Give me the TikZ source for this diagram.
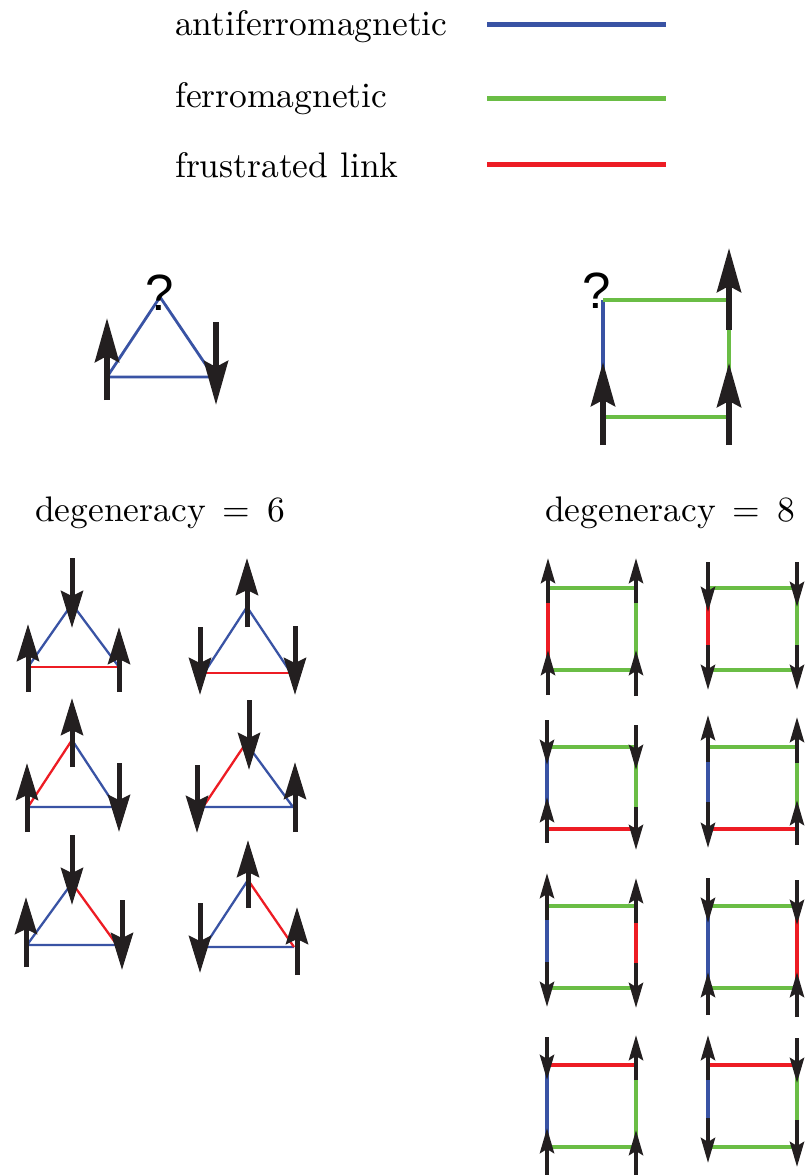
\documentclass[tikz,border=0pt]{standalone}
\usepackage{fontspec}
\setmainfont{lmroman10}[Extension=.otf, UprightFont=*-regular, BoldFont=*-bold, ItalicFont=*-italic]
\newfontfamily\qfont{Liberation Sans}
\usetikzlibrary{arrows.meta}
\definecolor{afm}{HTML}{3953A4}
\definecolor{fm}{HTML}{6ABD45}
\definecolor{fr}{HTML}{ED1C24}
\definecolor{spincol}{HTML}{231F20}
\begin{document}
\begin{tikzpicture}[x=1pt,y=-1pt,
 bigspin/.style={spincol, line width=6pt, -{Stealth[length=44pt,width=24pt,inset=6pt]}},
 tspin/.style={spincol, line width=5pt, -{Stealth[length=37pt,width=22pt,inset=5pt]}},
 sspin/.style={spincol, line width=4.3pt, -{Stealth[length=25pt,width=14pt,inset=4pt]}},
 tri/.style={line width=2.3pt},
 bigtri/.style={line width=2.8pt},
 sqr/.style={line width=3.3pt},
 bigsqr/.style={line width=4pt},
 leg/.style={line width=5pt},
 lbl/.style={font=\fontsize{35.5}{40}\selectfont, inner sep=0pt, anchor=base west},
 qm/.style={font=\qfont\fontsize{51}{55}\selectfont, inner sep=0pt, anchor=base}]
\useasboundingbox (0,0) rectangle (805,1175);

% legend
\node[lbl] (tafm) at (175,35) {antiferromagnetic};
\node[lbl] (tfm) at (175,107) {ferromagnetic};
\node[lbl] (tfr) at (175,177) {frustrated link};
\coordinate (la1) at (487,24); \coordinate (lb1) at (666,24);
\coordinate (la2) at (487,98); \coordinate (lb2) at (666,98);
\coordinate (la3) at (487,164); \coordinate (lb3) at (666,164);
\draw[leg,afm] (la1) -- (lb1);
\draw[leg,fm] (la2) -- (lb2);
\draw[leg,fr] (la3) -- (lb3);

% big triangle
\coordinate (BT) at (160,297); \coordinate (BL) at (107,377); \coordinate (BR) at (214,377);
\draw[bigtri,afm] (BL) -- (BT) -- (BR) -- cycle;
\node[qm] (q1) at (160,310) {?};
\draw[bigspin] (107,400) -- (107,318);
\draw[bigspin] (216,322) -- (216,405);

% big square
\coordinate (QTL) at (603,300); \coordinate (QTR) at (729,300);
\coordinate (QBR) at (729,417); \coordinate (QBL) at (603,417);
\draw[bigsqr,afm] (QBL) -- (QTL);
\draw[bigsqr,fm] (QTL) -- (QTR) -- (QBR) -- (QBL);
\node[qm] (q2) at (597,308) {?};
\draw[bigspin] (603,445) -- (603,362);
\draw[bigspin] (729,330) -- (729,248);
\draw[bigspin] (729,445) -- (729,363);

% degeneracy labels
\node[lbl] (d6) at (35,521) {degeneracy\hspace{5pt} =\hspace{5pt} 6};
\node[lbl] (d8) at (545,521) {degeneracy\hspace{5pt} =\hspace{5pt} 8};

% ---- small triangles ----
% T1
\coordinate (a1) at (72,604); \coordinate (b1) at (28,667); \coordinate (c1) at (119,667);
\draw[tri,afm] (b1) -- (a1) -- (c1);
\draw[tri,fr] (b1) -- (c1);
\draw[tspin] (28,692) -- (28,624);
\draw[tspin] (72,558) -- (72,628);
\draw[tspin] (119,692) -- (119,627);
% T2
\coordinate (a2) at (247,607); \coordinate (b2) at (204,673); \coordinate (c2) at (291,673);
\draw[tri,afm] (b2) -- (a2) -- (c2);
\draw[tri,fr] (b2) -- (c2);
\draw[tspin] (247,627) -- (247,558);
\draw[tspin] (200,627) -- (200,695);
\draw[tspin] (295,626) -- (295,695);
% T3
\coordinate (a3) at (72,740); \coordinate (b3) at (28,807); \coordinate (c3) at (116,807);
\draw[tri,fr] (b3) -- (a3);
\draw[tri,afm] (a3) -- (c3) -- (b3);
\draw[tspin] (72,767) -- (72,698);
\draw[tspin] (27,832) -- (27,763);
\draw[tspin] (119,763) -- (119,832);
% T4
\coordinate (a4) at (246,743); \coordinate (b4) at (203,807); \coordinate (c4) at (293,807);
\draw[tri,fr] (b4) -- (a4);
\draw[tri,afm] (a4) -- (c4) -- (b4);
\draw[tspin] (249,700) -- (249,770);
\draw[tspin] (197,765) -- (197,833);
\draw[tspin] (295,832) -- (295,762);
% T5
\coordinate (a5) at (72,883); \coordinate (b5) at (27,945); \coordinate (c5) at (117,945);
\draw[tri,afm] (c5) -- (b5) -- (a5);
\draw[tri,fr] (a5) -- (c5);
\draw[tspin] (72,835) -- (72,905);
\draw[tspin] (26,967) -- (26,897);
\draw[tspin] (122,900) -- (122,970);
% T6
\coordinate (a6) at (248,880); \coordinate (b6) at (204,947); \coordinate (c6) at (294,947);
\draw[tri,afm] (c6) -- (b6) -- (a6);
\draw[tri,fr] (a6) -- (c6);
\draw[tspin] (248,908) -- (248,840);
\draw[tspin] (200,903) -- (200,973);
\draw[tspin] (297,975) -- (297,907);

% ---- small squares ----
% S1
\coordinate (s1tl) at (548,588); \coordinate (s1tr) at (636,588);
\coordinate (s1br) at (636,670); \coordinate (s1bl) at (548,670);
\draw[sqr,fm] (s1tl) -- (s1tr) -- (s1br) -- (s1bl);
\draw[sqr,fr] (s1bl) -- (s1tl);
\draw[sspin] (548,603) -- (548,558);
\draw[sspin] (548,695) -- (548,650);
\draw[sspin] (636,603) -- (636,558);
\draw[sspin] (636,696) -- (636,650);
% S2
\coordinate (s2tl) at (708,588); \coordinate (s2tr) at (797,588);
\coordinate (s2br) at (797,670); \coordinate (s2bl) at (708,670);
\draw[sqr,fm] (s2tl) -- (s2tr) -- (s2br) -- (s2bl);
\draw[sqr,fr] (s2bl) -- (s2tl);
\draw[sspin] (708,562) -- (708,612);
\draw[sspin] (708,645) -- (708,690);
\draw[sspin] (797,562) -- (797,607);
\draw[sspin] (797,645) -- (797,690);
% S3
\coordinate (s3tl) at (547,747); \coordinate (s3tr) at (636,747);
\coordinate (s3br) at (636,829); \coordinate (s3bl) at (547,829);
\draw[sqr,afm] (s3bl) -- (s3tl);
\draw[sqr,fm] (s3tl) -- (s3tr) -- (s3br);
\draw[sqr,fr] (s3br) -- (s3bl);
\draw[sspin] (547,720) -- (547,765);
\draw[sspin] (547,843) -- (547,797);
\draw[sspin] (636,725) -- (636,770);
\draw[sspin] (636,807) -- (636,850);
% S4
\coordinate (s4tl) at (708,747); \coordinate (s4tr) at (797,747);
\coordinate (s4br) at (797,829); \coordinate (s4bl) at (708,829);
\draw[sqr,afm] (s4bl) -- (s4tl);
\draw[sqr,fm] (s4tl) -- (s4tr) -- (s4br);
\draw[sqr,fr] (s4br) -- (s4bl);
\draw[sspin] (708,762) -- (708,715);
\draw[sspin] (708,802) -- (708,848);
\draw[sspin] (797,763) -- (797,717);
\draw[sspin] (797,845) -- (797,800);
% S5
\coordinate (s5tl) at (547,906); \coordinate (s5tr) at (636,906);
\coordinate (s5br) at (636,988); \coordinate (s5bl) at (547,988);
\draw[sqr,afm] (s5bl) -- (s5tl);
\draw[sqr,fm] (s5tl) -- (s5tr);
\draw[sqr,fr] (s5tr) -- (s5br);
\draw[sqr,fm] (s5br) -- (s5bl);
\draw[sspin] (547,920) -- (547,873);
\draw[sspin] (547,962) -- (547,1007);
\draw[sspin] (636,923) -- (636,878);
\draw[sspin] (636,963) -- (636,1008);
% S6
\coordinate (s6tl) at (708,906); \coordinate (s6tr) at (797,906);
\coordinate (s6br) at (797,988); \coordinate (s6bl) at (708,988);
\draw[sqr,afm] (s6bl) -- (s6tl);
\draw[sqr,fm] (s6tl) -- (s6tr);
\draw[sqr,fr] (s6tr) -- (s6br);
\draw[sqr,fm] (s6br) -- (s6bl);
\draw[sspin] (708,878) -- (708,923);
\draw[sspin] (708,1015) -- (708,972);
\draw[sspin] (797,880) -- (797,925);
\draw[sspin] (797,1017) -- (797,972);
% S7
\coordinate (s7tl) at (547,1065); \coordinate (s7tr) at (636,1065);
\coordinate (s7br) at (636,1147); \coordinate (s7bl) at (547,1147);
\draw[sqr,fr] (s7tl) -- (s7tr);
\draw[sqr,fm] (s7tr) -- (s7br) -- (s7bl);
\draw[sqr,afm] (s7bl) -- (s7tl);
\draw[sspin] (547,1037) -- (547,1080);
\draw[sspin] (547,1175) -- (547,1128);
\draw[sspin] (636,1080) -- (636,1035);
\draw[sspin] (636,1175) -- (636,1130);
% S8
\coordinate (s8tl) at (708,1065); \coordinate (s8tr) at (797,1065);
\coordinate (s8br) at (797,1147); \coordinate (s8bl) at (708,1147);
\draw[sqr,fr] (s8tl) -- (s8tr);
\draw[sqr,fm] (s8tr) -- (s8br) -- (s8bl);
\draw[sqr,afm] (s8bl) -- (s8tl);
\draw[sspin] (708,1080) -- (708,1035);
\draw[sspin] (708,1118) -- (708,1163);
\draw[sspin] (797,1038) -- (797,1083);
\draw[sspin] (797,1120) -- (797,1167);
\end{tikzpicture}
\end{document}
